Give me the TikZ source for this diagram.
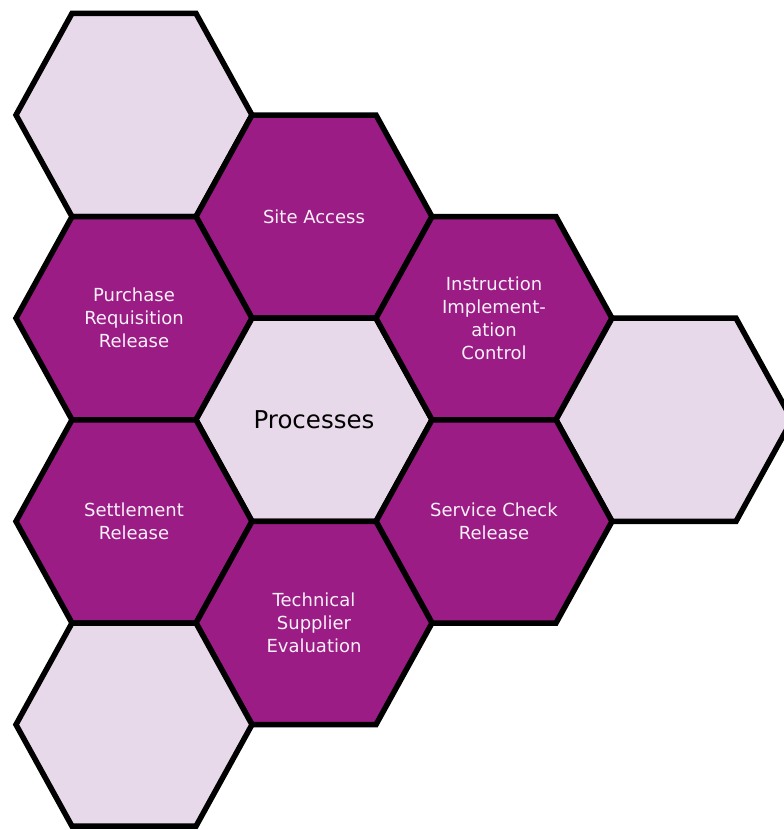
\documentclass[tikz,border=0pt]{standalone}
\usepackage{fontspec}
\setmainfont{DejaVu Sans}
\begin{document}
\definecolor{hexdark}{HTML}{9B1C84}
\definecolor{hexlight}{HTML}{E8D9EA}
\definecolor{hextext}{HTML}{FAF0FA}
\tikzset{
  hexedge/.style={draw=black, line width=5.5pt, line join=miter},
  darkcell/.style={hexedge, fill=hexdark},
  lightcell/.style={hexedge, fill=hexlight},
  celltext/.style={text=hextext, align=center, inner sep=0pt,
    font=\fontsize{18}{23}\selectfont},
  hubtext/.style={text=black, align=center, inner sep=0pt,
    font=\fontsize{24.5}{29}\selectfont}
}
% half width, half of the flat edge, half height
\newcommand\hexW{118}
\newcommand\hexA{62}
\newcommand\hexH{101.6}
% #1 cell style, #2 x, #3 y
\newcommand\hexcell[3]{%
  \path[#1] (#2-\hexW,#3) -- (#2-\hexA,#3-\hexH) -- (#2+\hexA,#3-\hexH)
    -- (#2+\hexW,#3) -- (#2+\hexA,#3+\hexH) -- (#2-\hexA,#3+\hexH) -- cycle;}
\begin{tikzpicture}[x=1pt,y=-1pt]
  \useasboundingbox (0,0) rectangle (784,830);
  % honeycomb cells
  \hexcell{lightcell}{134}{115}
  \hexcell{darkcell}{314}{216.6}
  \hexcell{darkcell}{134}{318.2}
  \hexcell{lightcell}{314}{419.8}
  \hexcell{darkcell}{494}{318.2}
  \hexcell{lightcell}{674}{419.8}
  \hexcell{darkcell}{134}{521.4}
  \hexcell{darkcell}{494}{521.4}
  \hexcell{darkcell}{314}{623}
  \hexcell{lightcell}{134}{724.6}
  % labels
  \node[celltext] (site) at (314,216.6) {Site Access};
  \node[celltext] (purchase) at (134,318.2) {Purchase\\Requisition\\Release};
  \node[hubtext] (hub) at (314,419.8) {Processes};
  \node[celltext] (instr) at (494,318.2) {Instruction\\Implement-\\ation\\Control};
  \node[celltext] (settle) at (134,521.4) {Settlement\\Release};
  \node[celltext] (service) at (494,521.4) {Service Check\\Release};
  \node[celltext] (tech) at (314,623) {Technical\\Supplier\\Evaluation};
\end{tikzpicture}
\end{document}
